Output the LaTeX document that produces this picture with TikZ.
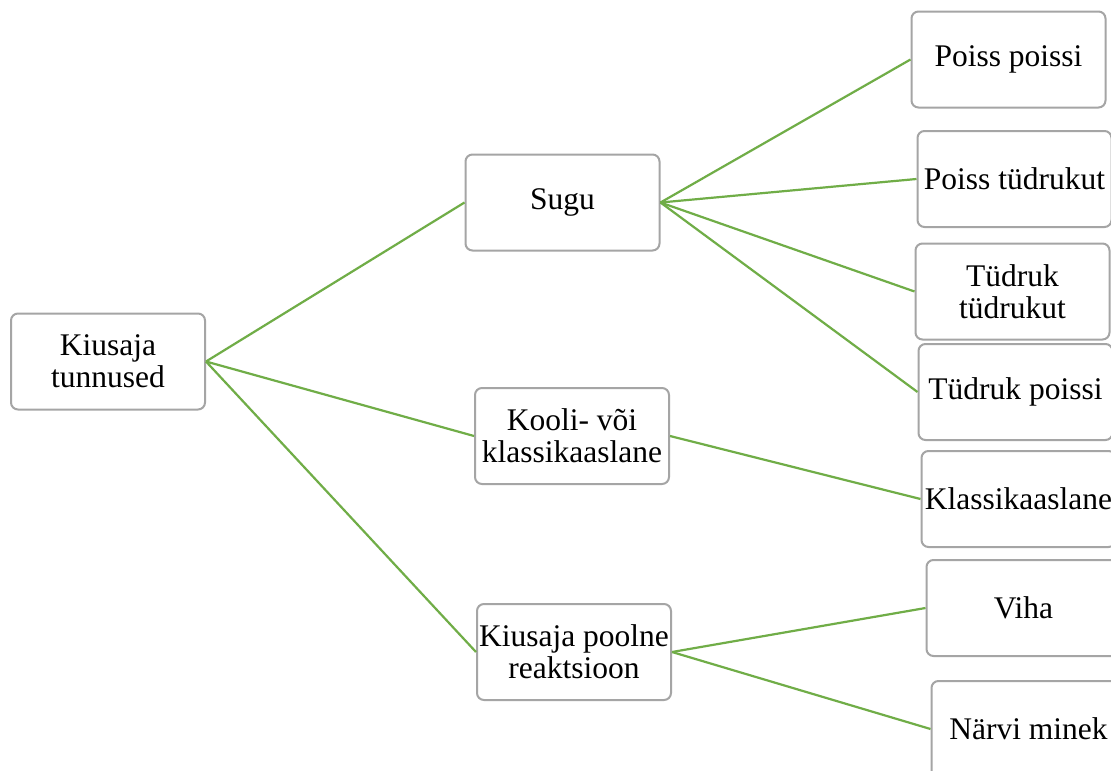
\documentclass[tikz,border=0pt]{standalone}
\usepackage{fontspec}
\setmainfont{Liberation Serif}
\definecolor{linkgreen}{RGB}{112,173,71}
\definecolor{boxgray}{RGB}{165,165,165}
\begin{document}
\begin{tikzpicture}[x=1pt,y=-1pt,
  box/.style={draw=boxgray, line width=2pt, rounded corners=7pt, fill=white,
    minimum width=194pt, minimum height=96pt, align=center, inner sep=2pt,
    font=\fontsize{31.5}{32}\selectfont},
  link/.style={draw=linkgreen, line width=2.2pt}]
\clip (0,0) rectangle (1111,771);
\fill[white] (0,0) rectangle (1111,771);
\node[box] (root) at (108,361.5) {Kiusaja\\tunnused};
\node[box] (sugu) at (562.5,202.5) {Sugu};
\node[box] (kooli) at (572,436) {Kooli- või\\klassikaaslane};
\node[box] (reakt) at (574,652) {Kiusaja poolne\\reaktsioon};
\node[box] (pp) at (1008.5,59.5) {Poiss poissi};
\node[box] (pt) at (1014.5,179) {Poiss tüdrukut};
\node[box] (tt) at (1012.5,291.5) {Tüdruk\\tüdrukut};
\node[box] (tp) at (1015.5,392) {Tüdruk poissi};
\node[box] (kl) at (1018.5,499) {Klassikaaslane};
\node[box] (viha) at (1023.5,608) {Viha};
\node[box] (narv) at (1028.5,729) {Närvi minek};
\draw[link] (root.east) -- (sugu.west);
\draw[link] (root.east) -- (kooli.west);
\draw[link] (root.east) -- (reakt.west);
\draw[link] (sugu.east) -- (pp.west);
\draw[link] (sugu.east) -- (pt.west);
\draw[link] (sugu.east) -- (tt.west);
\draw[link] (sugu.east) -- (tp.west);
\draw[link] (kooli.east) -- (kl.west);
\draw[link] (reakt.east) -- (viha.west);
\draw[link] (reakt.east) -- (narv.west);
\end{tikzpicture}
\end{document}
